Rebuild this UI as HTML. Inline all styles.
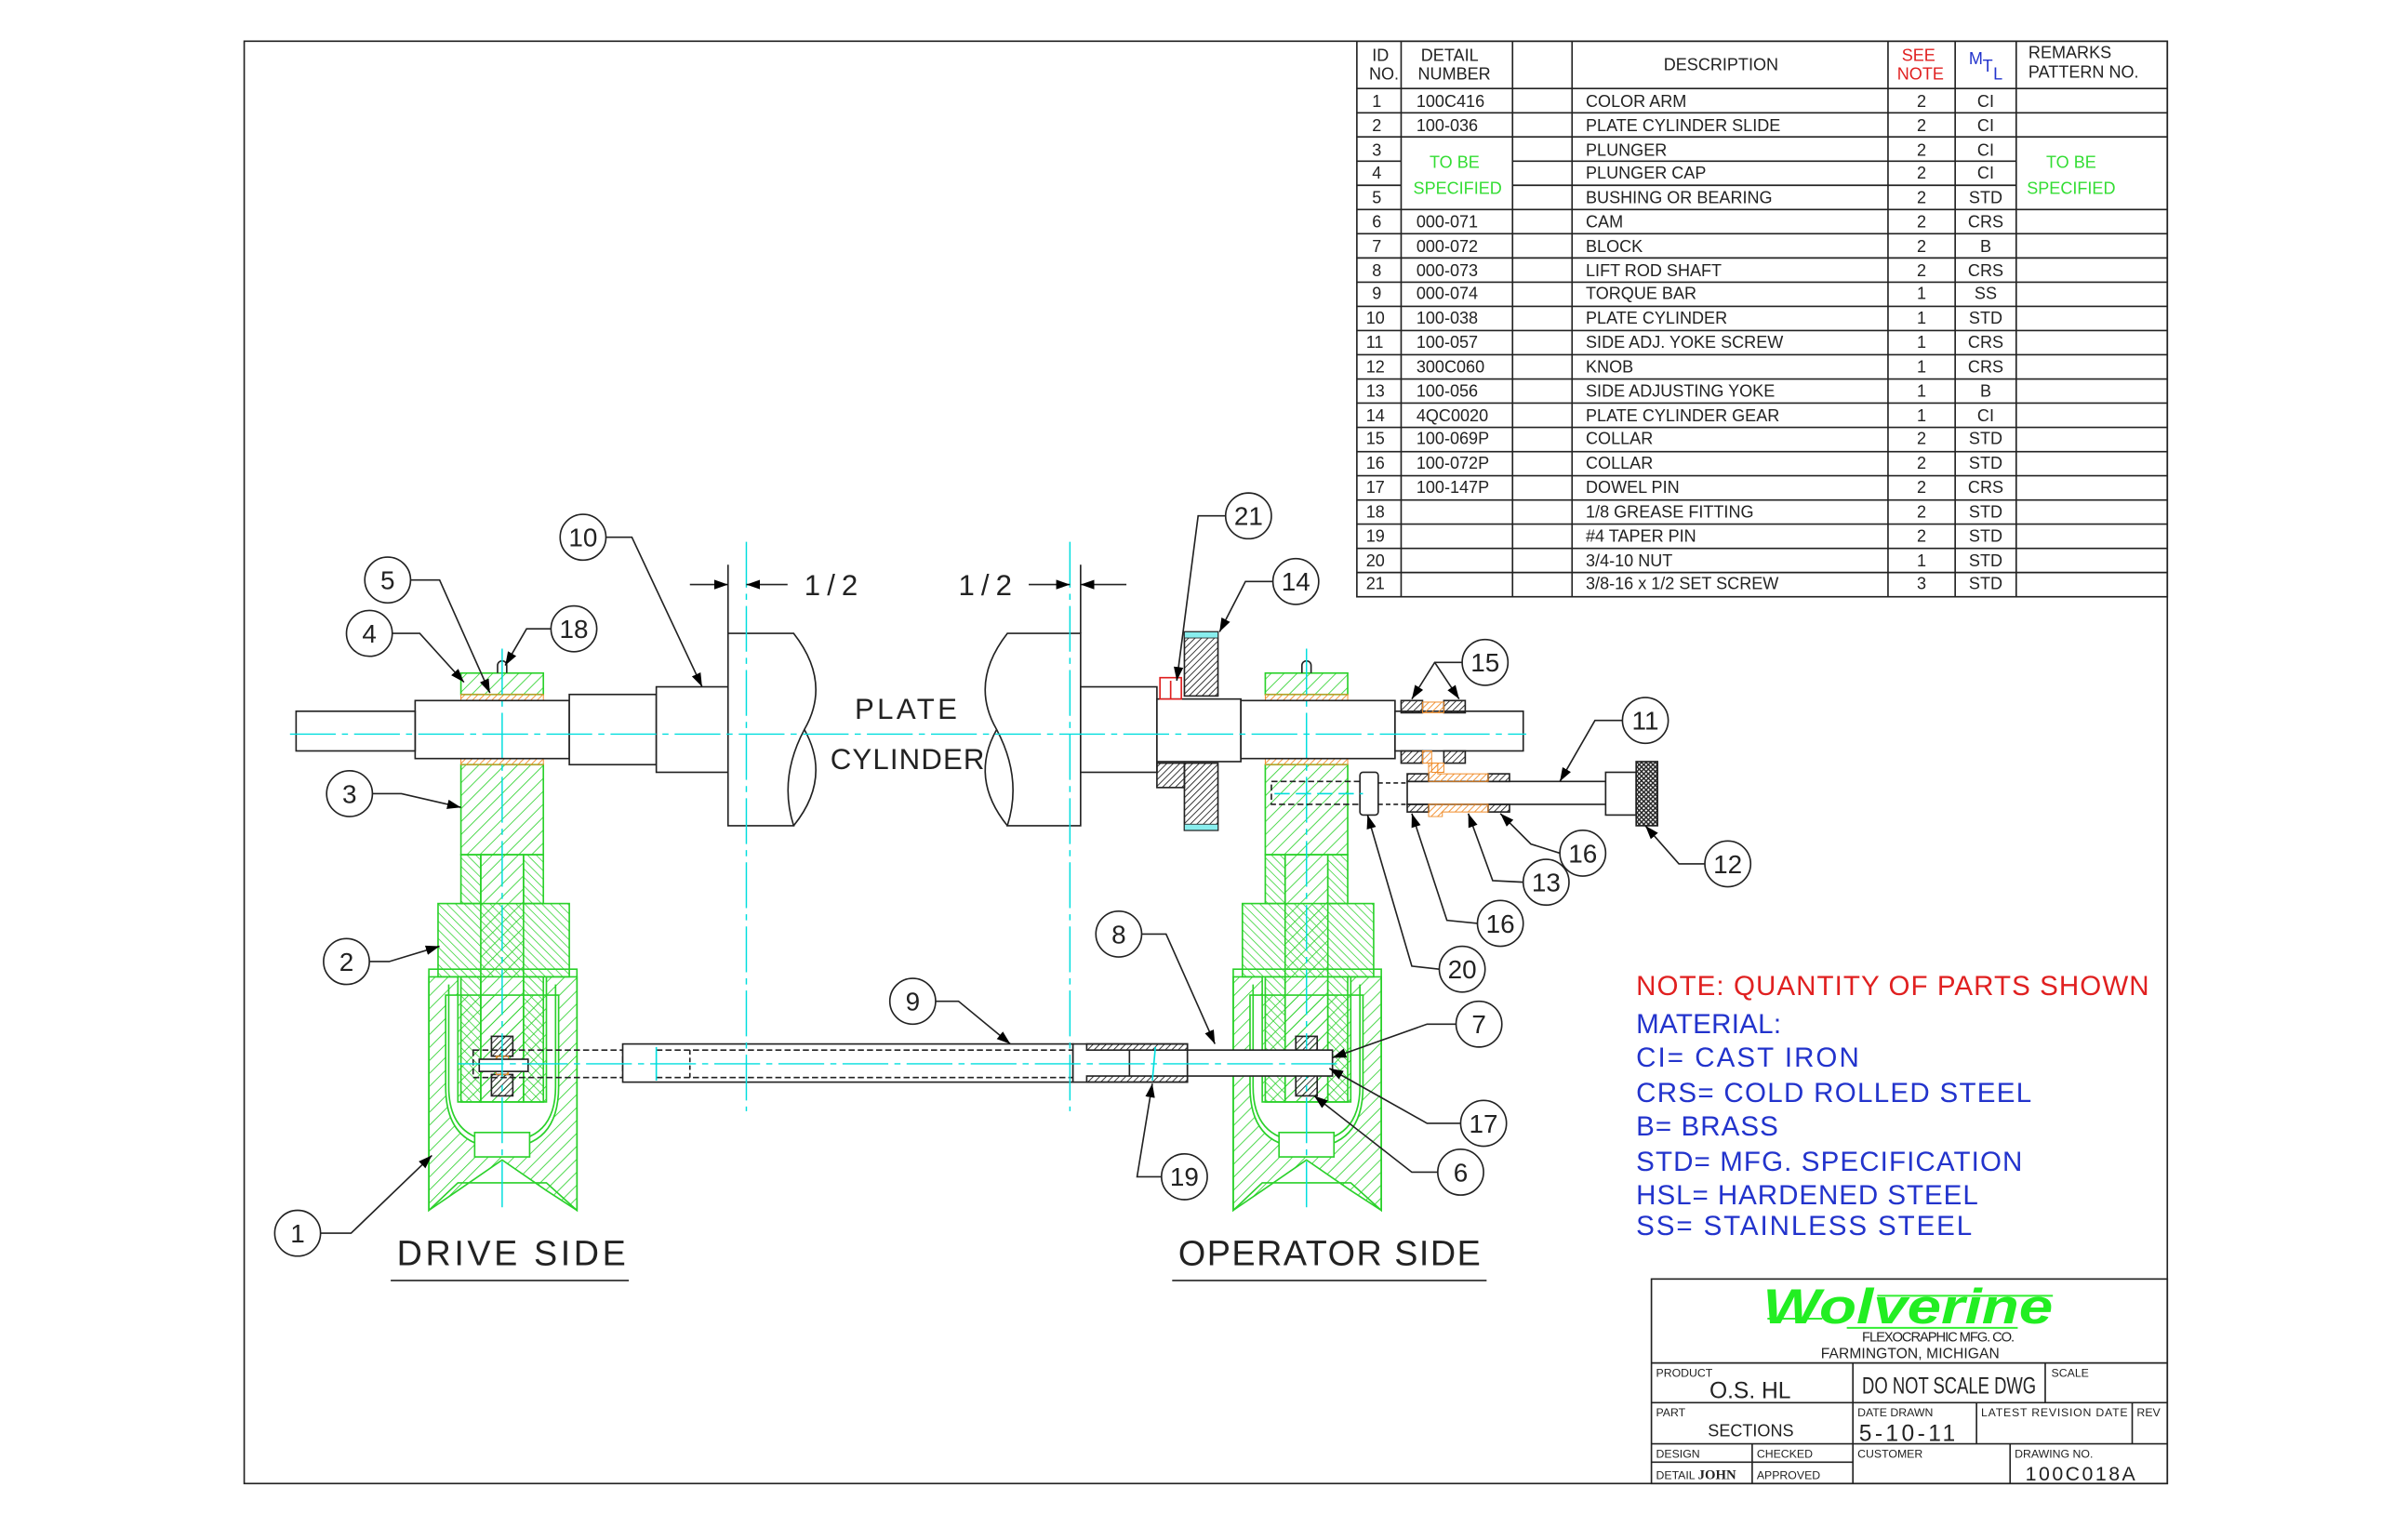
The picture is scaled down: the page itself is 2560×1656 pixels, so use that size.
<!DOCTYPE html>
<html><head><meta charset="utf-8"><style>
html,body{margin:0;padding:0;background:#fff}
svg{display:block}
text{font-family:"Liberation Sans",sans-serif}
</style></head><body>
<svg width="2560" height="1656" viewBox="0 0 1560 1009" preserveAspectRatio="none" xmlns="http://www.w3.org/2000/svg">
<defs>
<pattern id="hg" patternUnits="userSpaceOnUse" width="6" height="6" patternTransform="rotate(45)"><line x1="0" y1="0" x2="0" y2="6" stroke="#2ad12a" stroke-width="1"/></pattern>
<pattern id="hg2" patternUnits="userSpaceOnUse" width="4" height="4" patternTransform="rotate(-45)"><line x1="0" y1="0" x2="0" y2="4" stroke="#2ad12a" stroke-width="0.9"/></pattern>
<pattern id="ho" patternUnits="userSpaceOnUse" width="3" height="3" patternTransform="rotate(45)"><line x1="0" y1="0" x2="0" y2="3" stroke="#f08c2a" stroke-width="1.1"/></pattern>
<pattern id="hk" patternUnits="userSpaceOnUse" width="3" height="3" patternTransform="rotate(45)"><line x1="0" y1="0" x2="0" y2="3" stroke="#222" stroke-width="1.1"/></pattern>
<pattern id="xk" patternUnits="userSpaceOnUse" width="3" height="3"><path d="M0 0L3 3M3 0L0 3" stroke="#222" stroke-width="0.9"/></pattern>
<marker id="ar" viewBox="0 0 10 10" refX="10" refY="5" markerWidth="9" markerHeight="9" orient="auto-start-reverse" markerUnits="userSpaceOnUse"><path d="M0 1.5L10 5L0 8.5z" fill="#000"/></marker>
</defs>
<rect x="0" y="0" width="1560" height="1009" fill="#fff"/>
<rect x="160" y="27" width="1260" height="945" fill="none" stroke="#222" stroke-width="1"/>

<!-- PARTS TABLE -->
<g stroke="#222" stroke-width="1" fill="none">
<rect x="889" y="27" width="531" height="364"/>
<line x1="918" y1="27" x2="918" y2="391"/><line x1="991" y1="27" x2="991" y2="391"/><line x1="1030" y1="27" x2="1030" y2="391"/><line x1="1237" y1="27" x2="1237" y2="391"/><line x1="1281" y1="27" x2="1281" y2="391"/><line x1="1321" y1="27" x2="1321" y2="391"/>
<line x1="889" y1="58" x2="1420" y2="58"/><line x1="889" y1="73.9" x2="1420" y2="73.9"/><line x1="889" y1="89.7" x2="1420" y2="89.7"/>
<line x1="889" y1="105.6" x2="918" y2="105.6"/><line x1="991" y1="105.6" x2="1321" y2="105.6"/>
<line x1="889" y1="121.4" x2="918" y2="121.4"/><line x1="991" y1="121.4" x2="1321" y2="121.4"/>
<line x1="889" y1="137.3" x2="1420" y2="137.3"/><line x1="889" y1="153.1" x2="1420" y2="153.1"/><line x1="889" y1="169" x2="1420" y2="169"/><line x1="889" y1="184.9" x2="1420" y2="184.9"/><line x1="889" y1="200.7" x2="1420" y2="200.7"/><line x1="889" y1="216.6" x2="1420" y2="216.6"/><line x1="889" y1="232.4" x2="1420" y2="232.4"/><line x1="889" y1="248.3" x2="1420" y2="248.3"/><line x1="889" y1="264.1" x2="1420" y2="264.1"/><line x1="889" y1="280" x2="1420" y2="280"/><line x1="889" y1="295.9" x2="1420" y2="295.9"/><line x1="889" y1="311.7" x2="1420" y2="311.7"/><line x1="889" y1="327.6" x2="1420" y2="327.6"/><line x1="889" y1="343.4" x2="1420" y2="343.4"/><line x1="889" y1="359.3" x2="1420" y2="359.3"/><line x1="889" y1="375.1" x2="1420" y2="375.1"/>
</g>
<g font-size="11" fill="#222">
<text x="899" y="40">ID</text><text x="897" y="52">NO.</text>
<text x="931" y="40">DETAIL</text><text x="929" y="52">NUMBER</text>
<text x="1090" y="46">DESCRIPTION</text>
<text x="1246" y="40" fill="#e02020">SEE</text><text x="1243" y="52" fill="#e02020">NOTE</text>
<text x="1290" y="42" fill="#2233cc">M</text><text x="1299" y="47" fill="#2233cc">T</text><text x="1306" y="52" fill="#2233cc">L</text>
<text x="1329" y="38">REMARKS</text><text x="1329" y="51">PATTERN NO.</text>
<text x="953" y="110" fill="#33dd33" text-anchor="middle">TO BE</text><text x="955" y="127" fill="#33dd33" text-anchor="middle">SPECIFIED</text>
<text x="1357" y="110" fill="#33dd33" text-anchor="middle">TO BE</text><text x="1357" y="127" fill="#33dd33" text-anchor="middle">SPECIFIED</text>
</g>
<g font-size="11" fill="#222">
<text x="899" y="70">1</text><text x="928" y="70">100C416</text><text x="1039" y="70">COLOR ARM</text><text x="1259" y="70" text-anchor="middle">2</text><text x="1301" y="70" text-anchor="middle">CI</text>
<text x="899" y="86">2</text><text x="928" y="86">100-036</text><text x="1039" y="86">PLATE CYLINDER SLIDE</text><text x="1259" y="86" text-anchor="middle">2</text><text x="1301" y="86" text-anchor="middle">CI</text>
<text x="899" y="102">3</text><text x="1039" y="102">PLUNGER</text><text x="1259" y="102" text-anchor="middle">2</text><text x="1301" y="102" text-anchor="middle">CI</text>
<text x="899" y="117">4</text><text x="1039" y="117">PLUNGER CAP</text><text x="1259" y="117" text-anchor="middle">2</text><text x="1301" y="117" text-anchor="middle">CI</text>
<text x="899" y="133">5</text><text x="1039" y="133">BUSHING OR BEARING</text><text x="1259" y="133" text-anchor="middle">2</text><text x="1301" y="133" text-anchor="middle">STD</text>
<text x="899" y="149">6</text><text x="928" y="149">000-071</text><text x="1039" y="149">CAM</text><text x="1259" y="149" text-anchor="middle">2</text><text x="1301" y="149" text-anchor="middle">CRS</text>
<text x="899" y="165">7</text><text x="928" y="165">000-072</text><text x="1039" y="165">BLOCK</text><text x="1259" y="165" text-anchor="middle">2</text><text x="1301" y="165" text-anchor="middle">B</text>
<text x="899" y="181">8</text><text x="928" y="181">000-073</text><text x="1039" y="181">LIFT ROD SHAFT</text><text x="1259" y="181" text-anchor="middle">2</text><text x="1301" y="181" text-anchor="middle">CRS</text>
<text x="899" y="196">9</text><text x="928" y="196">000-074</text><text x="1039" y="196">TORQUE BAR</text><text x="1259" y="196" text-anchor="middle">1</text><text x="1301" y="196" text-anchor="middle">SS</text>
<text x="895" y="212">10</text><text x="928" y="212">100-038</text><text x="1039" y="212">PLATE CYLINDER</text><text x="1259" y="212" text-anchor="middle">1</text><text x="1301" y="212" text-anchor="middle">STD</text>
<text x="895" y="228">11</text><text x="928" y="228">100-057</text><text x="1039" y="228">SIDE ADJ. YOKE SCREW</text><text x="1259" y="228" text-anchor="middle">1</text><text x="1301" y="228" text-anchor="middle">CRS</text>
<text x="895" y="244">12</text><text x="928" y="244">300C060</text><text x="1039" y="244">KNOB</text><text x="1259" y="244" text-anchor="middle">1</text><text x="1301" y="244" text-anchor="middle">CRS</text>
<text x="895" y="260">13</text><text x="928" y="260">100-056</text><text x="1039" y="260">SIDE ADJUSTING YOKE</text><text x="1259" y="260" text-anchor="middle">1</text><text x="1301" y="260" text-anchor="middle">B</text>
<text x="895" y="276">14</text><text x="928" y="276">4QC0020</text><text x="1039" y="276">PLATE CYLINDER GEAR</text><text x="1259" y="276" text-anchor="middle">1</text><text x="1301" y="276" text-anchor="middle">CI</text>
<text x="895" y="291">15</text><text x="928" y="291">100-069P</text><text x="1039" y="291">COLLAR</text><text x="1259" y="291" text-anchor="middle">2</text><text x="1301" y="291" text-anchor="middle">STD</text>
<text x="895" y="307">16</text><text x="928" y="307">100-072P</text><text x="1039" y="307">COLLAR</text><text x="1259" y="307" text-anchor="middle">2</text><text x="1301" y="307" text-anchor="middle">STD</text>
<text x="895" y="323">17</text><text x="928" y="323">100-147P</text><text x="1039" y="323">DOWEL PIN</text><text x="1259" y="323" text-anchor="middle">2</text><text x="1301" y="323" text-anchor="middle">CRS</text>
<text x="895" y="339">18</text><text x="1039" y="339">1/8 GREASE FITTING</text><text x="1259" y="339" text-anchor="middle">2</text><text x="1301" y="339" text-anchor="middle">STD</text>
<text x="895" y="355">19</text><text x="1039" y="355">#4 TAPER PIN</text><text x="1259" y="355" text-anchor="middle">2</text><text x="1301" y="355" text-anchor="middle">STD</text>
<text x="895" y="371">20</text><text x="1039" y="371">3/4-10 NUT</text><text x="1259" y="371" text-anchor="middle">1</text><text x="1301" y="371" text-anchor="middle">STD</text>
<text x="895" y="386">21</text><text x="1039" y="386">3/8-16 x 1/2 SET SCREW</text><text x="1259" y="386" text-anchor="middle">3</text><text x="1301" y="386" text-anchor="middle">STD</text>
</g>

<!-- HOUSINGS -->
<g id="hs">
<path d="M281 640 H300 V722 H358 V640 H378 V793 L358 780 L329 760 L300 780 L281 793 Z M292 652 V712 Q292 752 329 752 Q366 752 366 712 V652 H366 Z" fill="url(#hg)" stroke="#2ad12a" stroke-width="1" fill-rule="evenodd"/>
<path d="M281 635 H378 V793 L358 775 L300 775 L281 793 Z" fill="none" stroke="#2ad12a" stroke-width="1"/>
<path d="M294 645 V712 Q294 748 329 748 Q364 748 364 712 V645" fill="none" stroke="#2ad12a" stroke-width="1"/>
<rect x="311" y="742" width="36" height="16" fill="#fff" stroke="#2ad12a"/>
<rect x="287" y="592" width="86" height="48" fill="url(#hg2)" stroke="#2ad12a"/>
<rect x="302" y="560" width="13" height="32" fill="url(#hg2)" stroke="#2ad12a"/>
<rect x="343" y="560" width="13" height="32" fill="url(#hg2)" stroke="#2ad12a"/>
<rect x="302" y="640" width="13" height="82" fill="url(#hg2)" stroke="#2ad12a"/>
<rect x="343" y="640" width="13" height="82" fill="url(#hg2)" stroke="#2ad12a"/>
<rect x="302" y="501" width="54" height="59" fill="url(#hg)" stroke="#2ad12a"/>
<rect x="315" y="560" width="28" height="162" fill="url(#hg)" stroke="#2ad12a"/>
<rect x="302" y="441" width="54" height="14" fill="url(#hg)" stroke="#2ad12a"/>
<rect x="302" y="455" width="54" height="4" fill="url(#ho)" stroke="#f08c2a" stroke-width="0.6"/>
<rect x="302" y="497" width="54" height="4" fill="url(#ho)" stroke="#f08c2a" stroke-width="0.6"/>
<path d="M326 441 V436 a3 3 0 0 1 6 0 V441" fill="none" stroke="#222"/>
<rect x="322" y="679" width="14" height="13" fill="url(#hk)" stroke="#222"/>
<rect x="322" y="704" width="14" height="14" fill="url(#hk)" stroke="#222"/>
<rect x="325" y="692" width="8" height="12" fill="url(#ho)" stroke="#f08c2a" stroke-width="0.6"/>
<rect x="314" y="694" width="32" height="8" fill="#fff" stroke="#222"/>
<line x1="329" y1="425" x2="329" y2="795" stroke="#00dede" stroke-width="0.9" stroke-dasharray="30 4 4 4"/>
</g>
<use href="#hs" x="527"/>

<!-- MAIN SHAFT -->
<g stroke="#222" stroke-width="1" fill="#fff">
<rect x="194" y="466" width="78" height="26"/>
<rect x="272" y="459" width="101" height="38" fill="none"/>
<rect x="373" y="455" width="57" height="46"/>
<rect x="430" y="450" width="47" height="56"/>
<path d="M477 415 H520 Q545 447 527 478 Q510 510 520 541 H477 Z"/>
<path d="M527 478 Q545 510 520 541" fill="none"/>
<path d="M708 415 H660 Q635 447 653 478 Q670 510 660 541 H708 Z"/>
<path d="M653 478 Q635 510 660 541" fill="none"/>
<rect x="708" y="450" width="50" height="56"/>
<rect x="758" y="458" width="55" height="41"/>
<rect x="813" y="459" width="101" height="38" fill="none"/>
<rect x="914" y="466" width="84" height="26"/>
</g>
<!-- gear 14 -->
<rect x="776" y="414" width="22" height="42" fill="url(#hk)" stroke="#222"/>
<rect x="776" y="500" width="22" height="44" fill="url(#hk)" stroke="#222"/>
<rect x="758" y="500" width="18" height="16" fill="url(#hk)" stroke="#222"/>
<rect x="776" y="414" width="22" height="4" fill="#8ee" stroke="#222" stroke-width="0.5"/>
<rect x="776" y="540" width="22" height="4" fill="#8ee" stroke="#222" stroke-width="0.5"/>
<rect x="760" y="444" width="14" height="14" fill="none" stroke="#e02020"/>
<line x1="767" y1="446" x2="767" y2="458" stroke="#e02020"/>
<!-- collars 15 -->
<rect x="918" y="459" width="14" height="8" fill="url(#hk)" stroke="#222"/>
<rect x="946" y="459" width="14" height="8" fill="url(#hk)" stroke="#222"/>
<rect x="932" y="460" width="14" height="7" fill="url(#ho)" stroke="#f08c2a" stroke-width="0.6"/>
<rect x="918" y="492" width="14" height="8" fill="url(#hk)" stroke="#222"/>
<rect x="946" y="492" width="14" height="8" fill="url(#hk)" stroke="#222"/>
<path d="M932 492 H938 V506 H946 V500 H932Z" fill="url(#ho)" stroke="#f08c2a" stroke-width="0.6"/>
<!-- screw 11 -->
<rect x="833" y="512" width="60" height="15" fill="none" stroke="#222" stroke-dasharray="4 2"/>
<rect x="891" y="506" width="12" height="28" rx="2" fill="#fff" stroke="#222"/>
<line x1="903" y1="513" x2="922" y2="513" stroke="#222" stroke-dasharray="3 2"/><line x1="903" y1="527" x2="922" y2="527" stroke="#222" stroke-dasharray="3 2"/>
<rect x="922" y="512" width="130" height="15" fill="#fff" stroke="#222"/>
<rect x="1052" y="506" width="20" height="28" fill="#fff" stroke="#222"/>
<rect x="1072" y="499" width="14" height="42" fill="url(#xk)" stroke="#222"/>
<rect x="922" y="507" width="14" height="5" fill="url(#hk)" stroke="#222"/>
<rect x="975" y="507" width="14" height="5" fill="url(#hk)" stroke="#222"/>
<rect x="922" y="527" width="14" height="5" fill="url(#hk)" stroke="#222"/>
<rect x="975" y="527" width="14" height="5" fill="url(#hk)" stroke="#222"/>
<path d="M936 500 H942 V507 H975 V512 H936Z" fill="url(#ho)" stroke="#f08c2a" stroke-width="0.6"/>
<path d="M936 527 H975 V532 H945 V535 H936Z" fill="url(#ho)" stroke="#f08c2a" stroke-width="0.6"/>
<line x1="835" y1="520" x2="893" y2="520" stroke="#00dede" stroke-dasharray="10 4"/>

<!-- TORQUE BAR -->
<g stroke="#222" stroke-width="1" fill="none">
<rect x="310" y="688" width="98" height="18" stroke-dasharray="4 2"/>
<rect x="408" y="684" width="295" height="25" fill="#fff"/>
<line x1="430" y1="688" x2="703" y2="688" stroke-dasharray="4 2"/><line x1="430" y1="706" x2="703" y2="706" stroke-dasharray="4 2"/>
<line x1="452" y1="688" x2="452" y2="706" stroke-dasharray="3 2"/>
<rect x="703" y="684" width="75" height="25" fill="#fff"/>
<rect x="712" y="684" width="66" height="4" fill="url(#hk)"/>
<rect x="712" y="705" width="66" height="4" fill="url(#hk)"/>
<line x1="740" y1="688" x2="740" y2="705"/>
<rect x="778" y="688" width="95" height="17" fill="#fff"/>
</g>
<line x1="430" y1="686" x2="430" y2="708" stroke="#00dede"/><line x1="757" y1="686" x2="755" y2="708" stroke="#00dede"/>

<!-- CENTERLINES -->
<g stroke="#00dede" stroke-width="0.9" fill="none" stroke-dasharray="30 4 4 4">
<line x1="190" y1="481" x2="1000" y2="481"/>
<line x1="300" y1="697" x2="880" y2="697"/>
<line x1="489" y1="355" x2="489" y2="728"/>
<line x1="701" y1="355" x2="701" y2="728"/>
</g>

<!-- DIMENSIONS -->
<g stroke="#222" stroke-width="1" fill="none">
<line x1="477" y1="370" x2="477" y2="415"/>
<line x1="708" y1="370" x2="708" y2="415"/>
<line x1="452" y1="383" x2="477" y2="383" marker-end="url(#ar)"/>
<line x1="516" y1="383" x2="489" y2="383" marker-end="url(#ar)"/>
<line x1="674" y1="383" x2="701" y2="383" marker-end="url(#ar)"/>
<line x1="738" y1="383" x2="708" y2="383" marker-end="url(#ar)"/>
</g>
<g font-size="19" fill="#222">
<text x="527" y="390" textLength="35">1/2</text><text x="628" y="390" textLength="35">1/2</text>
<text x="560" y="471" textLength="67">PLATE</text><text x="544" y="504" textLength="101">CYLINDER</text>
<text x="260" y="829" font-size="23" textLength="150">DRIVE SIDE</text>
<text x="772" y="829" font-size="23" textLength="198">OPERATOR SIDE</text>
</g>
<line x1="256" y1="839" x2="412" y2="839" stroke="#222"/>
<line x1="768" y1="839" x2="974" y2="839" stroke="#222"/>

<!-- LEADERS -->
<g stroke="#222" stroke-width="1" fill="none">
<polyline points="210,808 230,808 283,757" marker-end="url(#ar)"/>
<polyline points="242,630 255,630 288,620" marker-end="url(#ar)"/>
<polyline points="244,520 263,520 302,529" marker-end="url(#ar)"/>
<polyline points="257,415 275,415 304,447" marker-end="url(#ar)"/>
<polyline points="269,380 288,380 321,454" marker-end="url(#ar)"/>
<polyline points="361,412 345,412 331,436" marker-end="url(#ar)"/>
<polyline points="397,352 414,352 460,450" marker-end="url(#ar)"/>
<polyline points="803,338 785,338 771,446" marker-end="url(#ar)"/>
<polyline points="834,381 816,381 799,414" marker-end="url(#ar)"/>
<polyline points="958,434 940,434 925,458" marker-end="url(#ar)"/>
<polyline points="940,434 956,458" marker-end="url(#ar)"/>
<polyline points="1063,472 1045,472 1022,512" marker-end="url(#ar)"/>
<polyline points="1117,566 1100,566 1078,541" marker-end="url(#ar)"/>
<polyline points="1022,559 1003,553 983,533" marker-end="url(#ar)"/>
<polyline points="998,578 978,577 962,533" marker-end="url(#ar)"/>
<polyline points="968,605 948,603 925,533" marker-end="url(#ar)"/>
<polyline points="943,635 925,633 896,534" marker-end="url(#ar)"/>
<polyline points="954,671 935,671 873,693" marker-end="url(#ar)"/>
<polyline points="957,736 935,736 871,700" marker-end="url(#ar)"/>
<polyline points="942,768 925,768 861,718" marker-end="url(#ar)"/>
<polyline points="761,771 745,771 755,710" marker-end="url(#ar)"/>
<polyline points="748,612 764,612 796,684" marker-end="url(#ar)"/>
<polyline points="613,656 628,656 662,684" marker-end="url(#ar)"/>
</g>
<!-- BALLOONS -->
<g stroke="#222" stroke-width="1" fill="#fff">
<circle cx="195" cy="808" r="15"/><circle cx="227" cy="630" r="15"/><circle cx="229" cy="520" r="15"/><circle cx="242" cy="415" r="15"/><circle cx="254" cy="380" r="15"/><circle cx="376" cy="412" r="15"/><circle cx="382" cy="352" r="15"/><circle cx="818" cy="338" r="15"/><circle cx="849" cy="381" r="15"/><circle cx="973" cy="434" r="15"/><circle cx="1078" cy="472" r="15"/><circle cx="1132" cy="566" r="15"/><circle cx="1037" cy="559" r="15"/><circle cx="1013" cy="578" r="15"/><circle cx="983" cy="605" r="15"/><circle cx="958" cy="635" r="15"/><circle cx="969" cy="671" r="15"/><circle cx="972" cy="736" r="15"/><circle cx="957" cy="768" r="15"/><circle cx="776" cy="771" r="15"/><circle cx="733" cy="612" r="15"/><circle cx="598" cy="656" r="15"/>
</g>
<g font-size="17" fill="#222" text-anchor="middle">
<text x="195" y="814">1</text><text x="227" y="636">2</text><text x="229" y="526">3</text><text x="242" y="421">4</text><text x="254" y="386">5</text><text x="376" y="418">18</text><text x="382" y="358">10</text><text x="818" y="344">21</text><text x="849" y="387">14</text><text x="973" y="440">15</text><text x="1078" y="478">11</text><text x="1132" y="572">12</text><text x="1037" y="565">16</text><text x="1013" y="584">13</text><text x="983" y="611">16</text><text x="958" y="641">20</text><text x="969" y="677">7</text><text x="972" y="742">17</text><text x="957" y="774">6</text><text x="776" y="777">19</text><text x="733" y="618">8</text><text x="598" y="662">9</text>
</g>

<!-- NOTES -->
<g font-size="18">
<text x="1072" y="652" fill="#e02020" textLength="336">NOTE: QUANTITY OF PARTS SHOWN</text>
<g fill="#2233cc">
<text x="1072" y="677" textLength="95">MATERIAL:</text>
<text x="1072" y="699" textLength="146">CI= CAST IRON</text>
<text x="1072" y="722" textLength="259">CRS= COLD ROLLED STEEL</text>
<text x="1072" y="744" textLength="93">B= BRASS</text>
<text x="1072" y="767" textLength="253">STD= MFG. SPECIFICATION</text>
<text x="1072" y="789" textLength="224">HSL= HARDENED STEEL</text>
<text x="1072" y="809" textLength="220">SS= STAINLESS STEEL</text>
</g></g>

<!-- TITLE BLOCK -->
<g stroke="#222" stroke-width="1" fill="none">
<rect x="1082" y="838" width="338" height="134"/>
<line x1="1082" y1="893" x2="1420" y2="893"/>
<line x1="1082" y1="919" x2="1420" y2="919"/>
<line x1="1082" y1="946" x2="1420" y2="946"/>
<line x1="1082" y1="958" x2="1214" y2="958"/>
<line x1="1214" y1="893" x2="1214" y2="972"/>
<line x1="1148" y1="946" x2="1148" y2="972"/>
<line x1="1340" y1="893" x2="1340" y2="919"/>
<line x1="1295" y1="919" x2="1295" y2="946"/>
<line x1="1397" y1="919" x2="1397" y2="946"/>
<line x1="1317" y1="946" x2="1317" y2="972"/>
</g>
<g stroke="#33ee33" stroke-width="1.2"><line x1="1158" y1="864" x2="1194" y2="864"/><line x1="1230" y1="849" x2="1345" y2="849"/><line x1="1210" y1="870" x2="1322" y2="870"/></g>
<text x="1155" y="867" font-family="Liberation Serif,serif" font-weight="bold" font-style="italic" font-size="32" fill="#22ee22" textLength="190" lengthAdjust="spacingAndGlyphs">Wolverine</text>
<g fill="#222">
<text x="1220" y="879" font-size="9" textLength="100">FLEXOCRAPHIC MFG. CO.</text>
<text x="1193" y="890" font-size="9.5" textLength="117">FARMINGTON, MICHIGAN</text>
<text x="1085" y="902" font-size="7.5">PRODUCT</text>
<text x="1120" y="916" font-size="15">O.S. HL</text>
<text x="1220" y="913" font-family="Liberation Serif,serif" font-size="15" textLength="114" lengthAdjust="spacingAndGlyphs">DO NOT SCALE DWG</text>
<text x="1344" y="902" font-size="7.5">SCALE</text>
<text x="1085" y="928" font-size="7.5">PART</text>
<text x="1119" y="941" font-size="11">SECTIONS</text>
<text x="1217" y="928" font-size="7.5">DATE DRAWN</text>
<text x="1218" y="944" font-size="15" textLength="63">5-10-11</text>
<text x="1298" y="928" font-size="7.5" textLength="96">LATEST REVISION DATE</text>
<text x="1400" y="928" font-size="7.5">REV</text>
<text x="1085" y="955" font-size="7.5">DESIGN</text>
<text x="1151" y="955" font-size="7.5">CHECKED</text>
<text x="1085" y="969" font-size="7.5">DETAIL <tspan font-family="Liberation Serif,serif" font-weight="bold" font-size="9">JOHN</tspan></text>
<text x="1151" y="969" font-size="7.5">APPROVED</text>
<text x="1217" y="955" font-size="7.5">CUSTOMER</text>
<text x="1320" y="955" font-size="7.5">DRAWING NO.</text>
<text x="1327" y="970" font-size="13" textLength="72">100C018A</text>
</g>
</svg>
</body></html>
